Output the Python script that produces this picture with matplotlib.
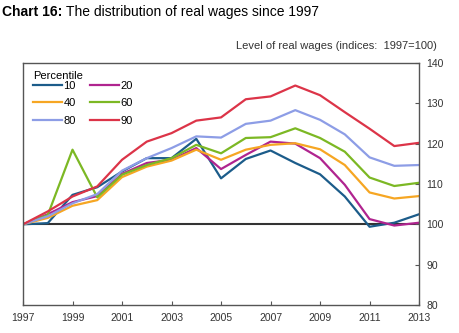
import matplotlib
matplotlib.use("Agg")
import matplotlib.pyplot as plt

plt.rcParams['font.family'] = ['Liberation Sans', 'DejaVu Sans']

years = list(range(1997, 2014))
p10 = [100, 100.3, 107.3, 109.2, 113.1, 116.4, 116.4, 121.2, 111.4, 116.2, 118.3, 115.2, 112.4, 106.9, 99.4, 100.4, 102.5]
p20 = [100, 102.5, 105.5, 107.0, 112.5, 115.2, 116.0, 118.9, 113.7, 117.2, 120.5, 120.0, 116.4, 109.8, 101.3, 99.7, 100.4]
p40 = [100, 101.6, 104.6, 106.0, 111.7, 114.3, 115.8, 118.5, 116.0, 118.5, 119.7, 120.1, 118.6, 114.7, 107.9, 106.4, 107.0]
p60 = [100, 102.3, 118.5, 106.7, 112.3, 114.7, 116.4, 119.7, 117.6, 121.4, 121.6, 123.8, 121.4, 118.0, 111.6, 109.5, 110.3]
p80 = [100, 102.0, 105.2, 107.5, 113.3, 116.4, 118.9, 121.8, 121.5, 124.9, 125.7, 128.3, 125.9, 122.3, 116.6, 114.5, 114.7]
p90 = [100, 103.2, 106.9, 109.4, 116.0, 120.5, 122.6, 125.7, 126.5, 131.0, 131.7, 134.4, 132.0, 127.8, 123.7, 119.4, 120.2]

series = [("10", p10, "#1c5c8a"), ("20", p20, "#b0248f"),
          ("40", p40, "#f6a623"), ("60", p60, "#7cb824"),
          ("80", p80, "#8d9de6"), ("90", p90, "#dc3448")]

fig = plt.figure(figsize=(4.6, 3.33), dpi=100)
ax = fig.add_axes([0.05, 0.084, 0.861, 0.727])

ax.axhline(100, color="#333333", lw=1.5, zorder=1)
lines = {}
for name, vals, col in series:
    lines[name], = ax.plot(years, vals, color=col, lw=1.6, label=name, zorder=2)

ax.set_xlim(1997, 2013)
ax.set_ylim(80, 140)
ax.set_xticks(range(1997, 2014, 2))
ax.set_yticks(range(80, 141, 10))
ax.yaxis.tick_right()
ax.tick_params(axis="both", direction="in", length=3, labelsize=7.5,
               color="#555555", labelcolor="#333333")
ax.tick_params(axis="y", pad=5)
ax.tick_params(axis="x", pad=6)
for s in ax.spines.values():
    s.set_color("#555555")
    s.set_linewidth(1.0)

# legend fills column-wise, so reorder to read row-wise
order = ["10", "40", "80", "20", "60", "90"]
leg = ax.legend([lines[k] for k in order], order, ncol=2, loc="upper left",
                frameon=False, title="Percentile",
                fontsize=8, title_fontsize=8, handlelength=2.6,
                handletextpad=0.15, columnspacing=1.3, labelspacing=0.68,
                borderaxespad=0.3, bbox_to_anchor=(0.005, 1.0))
leg._legend_box.align = "left"
leg._legend_box.sep = 0

fig.text(0.005, 0.965, "Chart 16:", fontsize=10, fontweight="bold", va="center")
fig.text(0.143, 0.965, "The distribution of real wages since 1997", fontsize=10, va="center")
fig.text(0.95, 0.862, "Level of real wages (indices:  1997=100)", fontsize=8,
         ha="right", va="center", color="#333333")

fig.savefig("out.png", dpi=100)
